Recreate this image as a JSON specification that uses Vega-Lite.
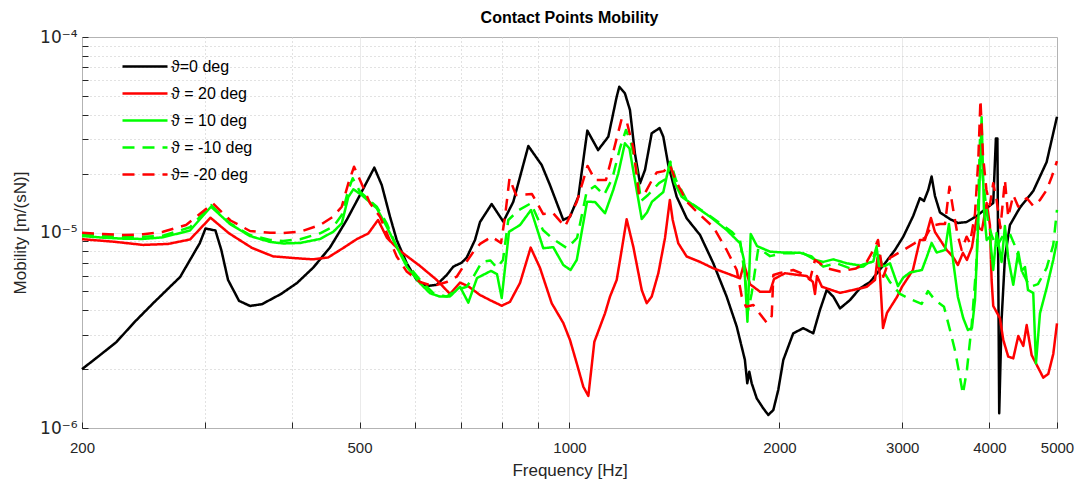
{
"$schema": "https://vega.github.io/schema/vega-lite/v6.json",
"width": 975, "height": 391,
"autosize": {"type": "none"},
"padding": {"left": 82, "top": 37, "right": 24, "bottom": 65},
"background": "white",
"config": {"view": {"stroke": "#262626", "strokeWidth": 1}, "font": "Liberation Sans"},
"title": {"text": "Contact Points Mobility", "fontSize": 16, "fontWeight": "bold", "font": "Liberation Sans", "color": "#000000", "offset": 2},
"data": {"values": [
{"s":"ϑ=0 deg","f":200,"v":2.0e-6},{"s":"ϑ=0 deg","f":211,"v":2.32e-6},{"s":"ϑ=0 deg","f":224,"v":2.75e-6},{"s":"ϑ=0 deg","f":238,"v":3.49e-6},{"s":"ϑ=0 deg","f":253,"v":4.35e-6},{"s":"ϑ=0 deg","f":267.5,"v":5.28e-6},{"s":"ϑ=0 deg","f":276.5,"v":5.92e-6},{"s":"ϑ=0 deg","f":286.6,"v":7.38e-6},{"s":"ϑ=0 deg","f":295,"v":8.81e-6},{"s":"ϑ=0 deg","f":300.7,"v":1.048e-5},{"s":"ϑ=0 deg","f":310.7,"v":1.024e-5},{"s":"ϑ=0 deg","f":316.8,"v":8.14e-6},{"s":"ϑ=0 deg","f":323.9,"v":5.72e-6},{"s":"ϑ=0 deg","f":335.9,"v":4.47e-6},{"s":"ϑ=0 deg","f":348.3,"v":4.21e-6},{"s":"ϑ=0 deg","f":362.3,"v":4.30e-6},{"s":"ϑ=0 deg","f":385.9,"v":4.85e-6},{"s":"ϑ=0 deg","f":406.8,"v":5.52e-6},{"s":"ϑ=0 deg","f":429.4,"v":6.63e-6},{"s":"ϑ=0 deg","f":453.6,"v":8.39e-6},{"s":"ϑ=0 deg","f":479.2,"v":1.159e-5},{"s":"ϑ=0 deg","f":500.7,"v":1.555e-5},{"s":"ϑ=0 deg","f":525,"v":2.146e-5},{"s":"ϑ=0 deg","f":538,"v":1.75e-5},{"s":"ϑ=0 deg","f":552.9,"v":1.205e-5},{"s":"ϑ=0 deg","f":565.3,"v":9.16e-6},{"s":"ϑ=0 deg","f":584.3,"v":6.96e-6},{"s":"ϑ=0 deg","f":603.8,"v":5.72e-6},{"s":"ϑ=0 deg","f":624.2,"v":5.32e-6},{"s":"ϑ=0 deg","f":645.1,"v":5.40e-6},{"s":"ϑ=0 deg","f":666.7,"v":6.06e-6},{"s":"ϑ=0 deg","f":681.4,"v":6.69e-6},{"s":"ϑ=0 deg","f":700.5,"v":7.01e-6},{"s":"ϑ=0 deg","f":712.2,"v":7.44e-6},{"s":"ϑ=0 deg","f":732,"v":9.16e-6},{"s":"ϑ=0 deg","f":744.2,"v":1.131e-5},{"s":"ϑ=0 deg","f":773.4,"v":1.399e-5},{"s":"ϑ=0 deg","f":803.7,"v":1.136e-5},{"s":"ϑ=0 deg","f":830.7,"v":1.437e-5},{"s":"ϑ=0 deg","f":872.9,"v":2.77e-5},{"s":"ϑ=0 deg","f":912.2,"v":2.215e-5},{"s":"ϑ=0 deg","f":937.5,"v":1.75e-5},{"s":"ϑ=0 deg","f":979.7,"v":1.159e-5},{"s":"ϑ=0 deg","f":1001.6,"v":1.205e-5},{"s":"ϑ=0 deg","f":1029.7,"v":1.525e-5},{"s":"ϑ=0 deg","f":1060.6,"v":3.32e-5},{"s":"ϑ=0 deg","f":1099,"v":2.64e-5},{"s":"ϑ=0 deg","f":1136.7,"v":3.09e-5},{"s":"ϑ=0 deg","f":1168.6,"v":4.95e-5},{"s":"ϑ=0 deg","f":1178.6,"v":5.57e-5},{"s":"ϑ=0 deg","f":1200.7,"v":5.15e-5},{"s":"ϑ=0 deg","f":1221,"v":4.23e-5},{"s":"ϑ=0 deg","f":1241,"v":2.54e-5},{"s":"ϑ=0 deg","f":1262.2,"v":1.785e-5},{"s":"ϑ=0 deg","f":1283,"v":2.088e-5},{"s":"ϑ=0 deg","f":1311.8,"v":3.22e-5},{"s":"ϑ=0 deg","f":1346.5,"v":3.42e-5},{"s":"ϑ=0 deg","f":1363,"v":3.09e-5},{"s":"ϑ=0 deg","f":1385.6,"v":2.215e-5},{"s":"ϑ=0 deg","f":1424.5,"v":1.525e-5},{"s":"ϑ=0 deg","f":1472.3,"v":1.182e-5},{"s":"ϑ=0 deg","f":1539,"v":9.70e-6},{"s":"ϑ=0 deg","f":1607.6,"v":6.96e-6},{"s":"ϑ=0 deg","f":1680,"v":4.70e-6},{"s":"ϑ=0 deg","f":1737,"v":3.30e-6},{"s":"ϑ=0 deg","f":1784.4,"v":2.23e-6},{"s":"ϑ=0 deg","f":1798.3,"v":1.693e-6},{"s":"ϑ=0 deg","f":1810.4,"v":1.94e-6},{"s":"ϑ=0 deg","f":1825,"v":1.693e-6},{"s":"ϑ=0 deg","f":1855.5,"v":1.418e-6},{"s":"ϑ=0 deg","f":1895.7,"v":1.261e-6},{"s":"ϑ=0 deg","f":1927.7,"v":1.166e-6},{"s":"ϑ=0 deg","f":1960,"v":1.236e-6},{"s":"ϑ=0 deg","f":1992,"v":1.564e-6},{"s":"ϑ=0 deg","f":2025.7,"v":2.23e-6},{"s":"ϑ=0 deg","f":2093,"v":3.05e-6},{"s":"ϑ=0 deg","f":2163.8,"v":3.24e-6},{"s":"ϑ=0 deg","f":2236,"v":3.05e-6},{"s":"ϑ=0 deg","f":2285.9,"v":4.01e-6},{"s":"ϑ=0 deg","f":2337.5,"v":5.08e-6},{"s":"ϑ=0 deg","f":2389,"v":4.70e-6},{"s":"ϑ=0 deg","f":2442.7,"v":4.09e-6},{"s":"ϑ=0 deg","f":2524,"v":4.51e-6},{"s":"ϑ=0 deg","f":2608.8,"v":5.18e-6},{"s":"ϑ=0 deg","f":2697,"v":5.58e-6},{"s":"ϑ=0 deg","f":2833.6,"v":6.96e-6},{"s":"ϑ=0 deg","f":2928.4,"v":8.14e-6},{"s":"ϑ=0 deg","f":3010,"v":9.52e-6},{"s":"ϑ=0 deg","f":3110,"v":1.214e-5},{"s":"ϑ=0 deg","f":3180,"v":1.50e-5},{"s":"ϑ=0 deg","f":3222.6,"v":1.45e-5},{"s":"ϑ=0 deg","f":3268.8,"v":1.65e-5},{"s":"ϑ=0 deg","f":3305,"v":1.934e-5},{"s":"ϑ=0 deg","f":3342,"v":1.537e-5},{"s":"ϑ=0 deg","f":3398,"v":1.266e-5},{"s":"ϑ=0 deg","f":3511.6,"v":1.172e-5},{"s":"ϑ=0 deg","f":3604.7,"v":1.118e-5},{"s":"ϑ=0 deg","f":3709.6,"v":1.131e-5},{"s":"ϑ=0 deg","f":3835.4,"v":1.214e-5},{"s":"ϑ=0 deg","f":3963.6,"v":1.334e-5},{"s":"ϑ=0 deg","f":4050.7,"v":1.415e-5},{"s":"ϑ=0 deg","f":4086.7,"v":3.03e-5},{"s":"ϑ=0 deg","f":4106.8,"v":3.03e-5},{"s":"ϑ=0 deg","f":4131.5,"v":1.189e-6},{"s":"ϑ=0 deg","f":4164,"v":3.57e-6},{"s":"ϑ=0 deg","f":4209.9,"v":7.41e-6},{"s":"ϑ=0 deg","f":4280,"v":1.092e-5},{"s":"ϑ=0 deg","f":4425,"v":1.342e-5},{"s":"ϑ=0 deg","f":4623,"v":1.63e-5},{"s":"ϑ=0 deg","f":4832,"v":2.293e-5},{"s":"ϑ=0 deg","f":5000,"v":3.91e-5},
{"s":"ϑ = 20 deg","f":200,"v":9.24e-6},{"s":"ϑ = 20 deg","f":221.6,"v":8.98e-6},{"s":"ϑ = 20 deg","f":244.7,"v":8.64e-6},{"s":"ϑ = 20 deg","f":265.7,"v":8.74e-6},{"s":"ϑ = 20 deg","f":285.7,"v":9.21e-6},{"s":"ϑ = 20 deg","f":305.7,"v":1.19e-5},{"s":"ϑ = 20 deg","f":324.9,"v":9.91e-6},{"s":"ϑ = 20 deg","f":350.6,"v":8.34e-6},{"s":"ϑ = 20 deg","f":375.8,"v":7.55e-6},{"s":"ϑ = 20 deg","f":406.8,"v":7.38e-6},{"s":"ϑ = 20 deg","f":428.9,"v":7.29e-6},{"s":"ϑ = 20 deg","f":450.7,"v":7.45e-6},{"s":"ϑ = 20 deg","f":474,"v":8.34e-6},{"s":"ϑ = 20 deg","f":495.3,"v":9.24e-6},{"s":"ϑ = 20 deg","f":514.7,"v":9.89e-6},{"s":"ϑ = 20 deg","f":531.5,"v":1.159e-5},{"s":"ϑ = 20 deg","f":547.5,"v":9.38e-6},{"s":"ϑ = 20 deg","f":571.5,"v":8.05e-6},{"s":"ϑ = 20 deg","f":610.5,"v":6.74e-6},{"s":"ϑ = 20 deg","f":645.1,"v":5.72e-6},{"s":"ϑ = 20 deg","f":674,"v":4.85e-6},{"s":"ϑ = 20 deg","f":696.6,"v":5.54e-6},{"s":"ϑ = 20 deg","f":715.3,"v":5.32e-6},{"s":"ϑ = 20 deg","f":744.2,"v":4.79e-6},{"s":"ϑ = 20 deg","f":769.1,"v":4.51e-6},{"s":"ϑ = 20 deg","f":799.5,"v":4.22e-6},{"s":"ϑ = 20 deg","f":821.6,"v":4.42e-6},{"s":"ϑ = 20 deg","f":849.3,"v":5.52e-6},{"s":"ϑ = 20 deg","f":879.7,"v":8.37e-6},{"s":"ϑ = 20 deg","f":907.2,"v":6.59e-6},{"s":"ϑ = 20 deg","f":942.8,"v":4.35e-6},{"s":"ϑ = 20 deg","f":979.7,"v":3.445e-6},{"s":"ϑ = 20 deg","f":1001.6,"v":2.82e-6},{"s":"ϑ = 20 deg","f":1024.3,"v":2.14e-6},{"s":"ϑ = 20 deg","f":1046.6,"v":1.627e-6},{"s":"ϑ = 20 deg","f":1064.2,"v":1.458e-6},{"s":"ϑ = 20 deg","f":1085.5,"v":2.76e-6},{"s":"ϑ = 20 deg","f":1124.4,"v":3.86e-6},{"s":"ϑ = 20 deg","f":1143,"v":4.70e-6},{"s":"ϑ = 20 deg","f":1168.6,"v":5.72e-6},{"s":"ϑ = 20 deg","f":1188,"v":8.14e-6},{"s":"ϑ = 20 deg","f":1207.7,"v":1.168e-5},{"s":"ϑ = 20 deg","f":1234.6,"v":8.44e-6},{"s":"ϑ = 20 deg","f":1269.3,"v":5.08e-6},{"s":"ϑ = 20 deg","f":1290.3,"v":4.35e-6},{"s":"ϑ = 20 deg","f":1311.8,"v":4.70e-6},{"s":"ϑ = 20 deg","f":1340.8,"v":6.19e-6},{"s":"ϑ = 20 deg","f":1370.7,"v":9.38e-6},{"s":"ϑ = 20 deg","f":1392.8,"v":1.466e-5},{"s":"ϑ = 20 deg","f":1406,"v":1.159e-5},{"s":"ϑ = 20 deg","f":1432,"v":8.81e-6},{"s":"ϑ = 20 deg","f":1472.3,"v":7.54e-6},{"s":"ϑ = 20 deg","f":1539,"v":7.07e-6},{"s":"ϑ = 20 deg","f":1607.6,"v":6.56e-6},{"s":"ϑ = 20 deg","f":1680,"v":6.19e-6},{"s":"ϑ = 20 deg","f":1756,"v":5.83e-6},{"s":"ϑ = 20 deg","f":1779,"v":6.90e-6},{"s":"ϑ = 20 deg","f":1814.6,"v":5.44e-6},{"s":"ϑ = 20 deg","f":1875.6,"v":4.98e-6},{"s":"ϑ = 20 deg","f":1938.7,"v":4.98e-6},{"s":"ϑ = 20 deg","f":1964.5,"v":5.78e-6},{"s":"ϑ = 20 deg","f":2037,"v":6.19e-6},{"s":"ϑ = 20 deg","f":2188,"v":5.99e-6},{"s":"ϑ = 20 deg","f":2234,"v":5.58e-6},{"s":"ϑ = 20 deg","f":2249,"v":4.85e-6},{"s":"ϑ = 20 deg","f":2264,"v":5.99e-6},{"s":"ϑ = 20 deg","f":2300.7,"v":5.28e-6},{"s":"ϑ = 20 deg","f":2442.7,"v":4.91e-6},{"s":"ϑ = 20 deg","f":2549.6,"v":5.08e-6},{"s":"ϑ = 20 deg","f":2667.5,"v":5.27e-6},{"s":"ϑ = 20 deg","f":2741.8,"v":5.72e-6},{"s":"ϑ = 20 deg","f":2764.5,"v":7.41e-6},{"s":"ϑ = 20 deg","f":2787,"v":6.06e-6},{"s":"ϑ = 20 deg","f":2815,"v":3.25e-6},{"s":"ϑ = 20 deg","f":2852.3,"v":3.88e-6},{"s":"ϑ = 20 deg","f":2948,"v":4.68e-6},{"s":"ϑ = 20 deg","f":2997,"v":5.27e-6},{"s":"ϑ = 20 deg","f":3107.3,"v":6.43e-6},{"s":"ϑ = 20 deg","f":3180,"v":9.16e-6},{"s":"ϑ = 20 deg","f":3233,"v":9.16e-6},{"s":"ϑ = 20 deg","f":3297.8,"v":1.186e-5},{"s":"ϑ = 20 deg","f":3342,"v":1.006e-5},{"s":"ϑ = 20 deg","f":3473.9,"v":8.14e-6},{"s":"ϑ = 20 deg","f":3546.5,"v":7.51e-6},{"s":"ϑ = 20 deg","f":3604.8,"v":6.82e-6},{"s":"ϑ = 20 deg","f":3665,"v":7.86e-6},{"s":"ϑ = 20 deg","f":3713.8,"v":7.24e-6},{"s":"ϑ = 20 deg","f":3776,"v":8.41e-6},{"s":"ϑ = 20 deg","f":3835.4,"v":1.186e-5},{"s":"ϑ = 20 deg","f":3864.5,"v":1.054e-5},{"s":"ϑ = 20 deg","f":3902.6,"v":1.03e-5},{"s":"ϑ = 20 deg","f":3963.6,"v":1.415e-5},{"s":"ϑ = 20 deg","f":4006.7,"v":1.092e-5},{"s":"ϑ = 20 deg","f":4029,"v":5.72e-6},{"s":"ϑ = 20 deg","f":4050.7,"v":4.21e-6},{"s":"ϑ = 20 deg","f":4141,"v":3.65e-6},{"s":"ϑ = 20 deg","f":4187.7,"v":2.82e-6},{"s":"ϑ = 20 deg","f":4256,"v":2.32e-6},{"s":"ϑ = 20 deg","f":4327.5,"v":2.27e-6},{"s":"ϑ = 20 deg","f":4400,"v":2.955e-6},{"s":"ϑ = 20 deg","f":4473.5,"v":2.63e-6},{"s":"ϑ = 20 deg","f":4523.9,"v":3.36e-6},{"s":"ϑ = 20 deg","f":4598.5,"v":2.36e-6},{"s":"ϑ = 20 deg","f":4700,"v":2.03e-6},{"s":"ϑ = 20 deg","f":4778,"v":1.81e-6},{"s":"ϑ = 20 deg","f":4858,"v":1.89e-6},{"s":"ϑ = 20 deg","f":4938.7,"v":2.39e-6},{"s":"ϑ = 20 deg","f":5000,"v":3.43e-6},
{"s":"ϑ = 10 deg","f":200,"v":9.59e-6},{"s":"ϑ = 10 deg","f":214.4,"v":9.41e-6},{"s":"ϑ = 10 deg","f":229,"v":9.30e-6},{"s":"ϑ = 10 deg","f":244.7,"v":9.27e-6},{"s":"ϑ = 10 deg","f":261.3,"v":9.45e-6},{"s":"ϑ = 10 deg","f":285.7,"v":1.024e-5},{"s":"ϑ = 10 deg","f":306.2,"v":1.355e-5},{"s":"ϑ = 10 deg","f":326,"v":1.105e-5},{"s":"ϑ = 10 deg","f":348.3,"v":9.59e-6},{"s":"ϑ = 10 deg","f":372.1,"v":8.95e-6},{"s":"ϑ = 10 deg","f":388.5,"v":8.79e-6},{"s":"ϑ = 10 deg","f":410.9,"v":8.84e-6},{"s":"ϑ = 10 deg","f":438.9,"v":9.27e-6},{"s":"ϑ = 10 deg","f":458.5,"v":1.009e-5},{"s":"ϑ = 10 deg","f":471.5,"v":1.114e-5},{"s":"ϑ = 10 deg","f":481.8,"v":1.519e-5},{"s":"ϑ = 10 deg","f":489.9,"v":1.664e-5},{"s":"ϑ = 10 deg","f":503.6,"v":1.555e-5},{"s":"ϑ = 10 deg","f":529.2,"v":1.33e-5},{"s":"ϑ = 10 deg","f":546.9,"v":1.071e-5},{"s":"ϑ = 10 deg","f":565.3,"v":8.44e-6},{"s":"ϑ = 10 deg","f":584.3,"v":6.69e-6},{"s":"ϑ = 10 deg","f":610.5,"v":5.50e-6},{"s":"ϑ = 10 deg","f":631,"v":4.89e-6},{"s":"ϑ = 10 deg","f":652.1,"v":4.70e-6},{"s":"ϑ = 10 deg","f":674,"v":4.71e-6},{"s":"ϑ = 10 deg","f":696.6,"v":5.28e-6},{"s":"ϑ = 10 deg","f":716,"v":4.38e-6},{"s":"ϑ = 10 deg","f":736.9,"v":5.85e-6},{"s":"ϑ = 10 deg","f":771.6,"v":6.36e-6},{"s":"ϑ = 10 deg","f":787.1,"v":6.13e-6},{"s":"ϑ = 10 deg","f":799.5,"v":4.62e-6},{"s":"ϑ = 10 deg","f":818.9,"v":1.009e-5},{"s":"ϑ = 10 deg","f":849.3,"v":1.092e-5},{"s":"ϑ = 10 deg","f":880.6,"v":1.304e-5},{"s":"ϑ = 10 deg","f":917,"v":8.31e-6},{"s":"ϑ = 10 deg","f":947.8,"v":8.41e-6},{"s":"ϑ = 10 deg","f":979.7,"v":6.82e-6},{"s":"ϑ = 10 deg","f":1003.4,"v":6.43e-6},{"s":"ϑ = 10 deg","f":1024.3,"v":7.24e-6},{"s":"ϑ = 10 deg","f":1059.6,"v":1.437e-5},{"s":"ϑ = 10 deg","f":1088,"v":1.432e-5},{"s":"ϑ = 10 deg","f":1124.4,"v":1.254e-5},{"s":"ϑ = 10 deg","f":1155.4,"v":1.65e-5},{"s":"ϑ = 10 deg","f":1174.8,"v":2.008e-5},{"s":"ϑ = 10 deg","f":1200.7,"v":2.86e-5},{"s":"ϑ = 10 deg","f":1219,"v":2.69e-5},{"s":"ϑ = 10 deg","f":1237.4,"v":1.97e-5},{"s":"ϑ = 10 deg","f":1269.3,"v":1.172e-5},{"s":"ϑ = 10 deg","f":1291.6,"v":1.266e-5},{"s":"ϑ = 10 deg","f":1313,"v":1.437e-5},{"s":"ϑ = 10 deg","f":1363,"v":1.61e-5},{"s":"ϑ = 10 deg","f":1393.2,"v":2.293e-5},{"s":"ϑ = 10 deg","f":1415.8,"v":1.785e-5},{"s":"ϑ = 10 deg","f":1448,"v":1.525e-5},{"s":"ϑ = 10 deg","f":1504.6,"v":1.382e-5},{"s":"ϑ = 10 deg","f":1590,"v":1.205e-5},{"s":"ϑ = 10 deg","f":1680,"v":1.03e-5},{"s":"ϑ = 10 deg","f":1756,"v":8.81e-6},{"s":"ϑ = 10 deg","f":1779,"v":7.24e-6},{"s":"ϑ = 10 deg","f":1799.4,"v":3.50e-6},{"s":"ϑ = 10 deg","f":1818.9,"v":9.83e-6},{"s":"ϑ = 10 deg","f":1857.3,"v":8.52e-6},{"s":"ϑ = 10 deg","f":1938.7,"v":7.98e-6},{"s":"ϑ = 10 deg","f":2023.6,"v":7.90e-6},{"s":"ϑ = 10 deg","f":2140.4,"v":7.88e-6},{"s":"ϑ = 10 deg","f":2224.4,"v":7.54e-6},{"s":"ϑ = 10 deg","f":2248.9,"v":7.24e-6},{"s":"ϑ = 10 deg","f":2311,"v":7.07e-6},{"s":"ϑ = 10 deg","f":2389,"v":7.29e-6},{"s":"ϑ = 10 deg","f":2496.8,"v":6.96e-6},{"s":"ϑ = 10 deg","f":2608.8,"v":6.78e-6},{"s":"ϑ = 10 deg","f":2726.4,"v":7.11e-6},{"s":"ϑ = 10 deg","f":2757.3,"v":8.34e-6},{"s":"ϑ = 10 deg","f":2778.2,"v":6.74e-6},{"s":"ϑ = 10 deg","f":2833.6,"v":6.74e-6},{"s":"ϑ = 10 deg","f":2880.4,"v":6.96e-6},{"s":"ϑ = 10 deg","f":2957.8,"v":5.32e-6},{"s":"ϑ = 10 deg","f":3010,"v":5.88e-6},{"s":"ϑ = 10 deg","f":3077,"v":6.24e-6},{"s":"ϑ = 10 deg","f":3201,"v":6.43e-6},{"s":"ϑ = 10 deg","f":3254.8,"v":7.54e-6},{"s":"ϑ = 10 deg","f":3305.6,"v":8.84e-6},{"s":"ϑ = 10 deg","f":3361,"v":7.90e-6},{"s":"ϑ = 10 deg","f":3454.5,"v":8.14e-6},{"s":"ϑ = 10 deg","f":3500,"v":1.105e-5},{"s":"ϑ = 10 deg","f":3550,"v":7.07e-6},{"s":"ϑ = 10 deg","f":3604.8,"v":4.68e-6},{"s":"ϑ = 10 deg","f":3668.7,"v":3.65e-6},{"s":"ϑ = 10 deg","f":3726,"v":3.17e-6},{"s":"ϑ = 10 deg","f":3776,"v":3.25e-6},{"s":"ϑ = 10 deg","f":3814,"v":4.51e-6},{"s":"ϑ = 10 deg","f":3855.7,"v":1.118e-5},{"s":"ϑ = 10 deg","f":3898.7,"v":3.89e-5},{"s":"ϑ = 10 deg","f":3928.6,"v":1.304e-5},{"s":"ϑ = 10 deg","f":3963.6,"v":9.16e-6},{"s":"ϑ = 10 deg","f":4006.7,"v":9.52e-6},{"s":"ϑ = 10 deg","f":4050.7,"v":6.43e-6},{"s":"ϑ = 10 deg","f":4096,"v":9.94e-6},{"s":"ϑ = 10 deg","f":4164.4,"v":7.07e-6},{"s":"ϑ = 10 deg","f":4209.9,"v":1.08e-5},{"s":"ϑ = 10 deg","f":4256.3,"v":7.41e-6},{"s":"ϑ = 10 deg","f":4327.5,"v":5.40e-6},{"s":"ϑ = 10 deg","f":4400,"v":7.94e-6},{"s":"ϑ = 10 deg","f":4450,"v":6.36e-6},{"s":"ϑ = 10 deg","f":4498.5,"v":6.66e-6},{"s":"ϑ = 10 deg","f":4543.3,"v":5.08e-6},{"s":"ϑ = 10 deg","f":4623,"v":4.91e-6},{"s":"ϑ = 10 deg","f":4664.6,"v":2.14e-6},{"s":"ϑ = 10 deg","f":4726.6,"v":3.86e-6},{"s":"ϑ = 10 deg","f":4832,"v":5.20e-6},{"s":"ϑ = 10 deg","f":4938.7,"v":7.24e-6},{"s":"ϑ = 10 deg","f":5000,"v":9.05e-6},
{"s":"ϑ =  -10 deg","f":200,"v":9.79e-6},{"s":"ϑ =  -10 deg","f":214.4,"v":9.59e-6},{"s":"ϑ =  -10 deg","f":229,"v":9.52e-6},{"s":"ϑ =  -10 deg","f":244.7,"v":9.52e-6},{"s":"ϑ =  -10 deg","f":261.3,"v":9.63e-6},{"s":"ϑ =  -10 deg","f":285.7,"v":1.063e-5},{"s":"ϑ =  -10 deg","f":306.2,"v":1.382e-5},{"s":"ϑ =  -10 deg","f":326,"v":1.114e-5},{"s":"ϑ =  -10 deg","f":348.3,"v":9.70e-6},{"s":"ϑ =  -10 deg","f":372.1,"v":9.16e-6},{"s":"ϑ =  -10 deg","f":388.5,"v":9.05e-6},{"s":"ϑ =  -10 deg","f":410.9,"v":9.24e-6},{"s":"ϑ =  -10 deg","f":438.9,"v":9.91e-6},{"s":"ϑ =  -10 deg","f":458.5,"v":1.071e-5},{"s":"ϑ =  -10 deg","f":471.5,"v":1.229e-5},{"s":"ϑ =  -10 deg","f":481.8,"v":1.65e-5},{"s":"ϑ =  -10 deg","f":488.9,"v":1.894e-5},{"s":"ϑ =  -10 deg","f":500.7,"v":1.617e-5},{"s":"ϑ =  -10 deg","f":529.2,"v":1.355e-5},{"s":"ϑ =  -10 deg","f":546.9,"v":1.114e-5},{"s":"ϑ =  -10 deg","f":562.1,"v":8.81e-6},{"s":"ϑ =  -10 deg","f":581,"v":7.10e-6},{"s":"ϑ =  -10 deg","f":610.5,"v":5.72e-6},{"s":"ϑ =  -10 deg","f":637.9,"v":4.89e-6},{"s":"ϑ =  -10 deg","f":666.7,"v":4.70e-6},{"s":"ϑ =  -10 deg","f":689.1,"v":5.08e-6},{"s":"ϑ =  -10 deg","f":712.2,"v":5.28e-6},{"s":"ϑ =  -10 deg","f":728,"v":5.94e-6},{"s":"ϑ =  -10 deg","f":749.1,"v":7.07e-6},{"s":"ϑ =  -10 deg","f":770.4,"v":7.19e-6},{"s":"ϑ =  -10 deg","f":787.1,"v":6.59e-6},{"s":"ϑ =  -10 deg","f":802.9,"v":7.24e-6},{"s":"ϑ =  -10 deg","f":817,"v":1.159e-5},{"s":"ϑ =  -10 deg","f":846.5,"v":1.304e-5},{"s":"ϑ =  -10 deg","f":880.6,"v":1.411e-5},{"s":"ϑ =  -10 deg","f":916,"v":1.03e-5},{"s":"ϑ =  -10 deg","f":946.9,"v":9.27e-6},{"s":"ϑ =  -10 deg","f":991.8,"v":8.31e-6},{"s":"ϑ =  -10 deg","f":1025.3,"v":9.38e-6},{"s":"ϑ =  -10 deg","f":1058.5,"v":1.621e-5},{"s":"ϑ =  -10 deg","f":1088,"v":1.729e-5},{"s":"ϑ =  -10 deg","f":1120.7,"v":1.555e-5},{"s":"ϑ =  -10 deg","f":1152.3,"v":1.90e-5},{"s":"ϑ =  -10 deg","f":1181.4,"v":2.705e-5},{"s":"ϑ =  -10 deg","f":1204.9,"v":3.345e-5},{"s":"ϑ =  -10 deg","f":1225,"v":2.87e-5},{"s":"ϑ =  -10 deg","f":1248.4,"v":2.088e-5},{"s":"ϑ =  -10 deg","f":1266.4,"v":1.45e-5},{"s":"ϑ =  -10 deg","f":1295.8,"v":1.555e-5},{"s":"ϑ =  -10 deg","f":1343.9,"v":1.79e-5},{"s":"ϑ =  -10 deg","f":1379.7,"v":1.894e-5},{"s":"ϑ =  -10 deg","f":1395.5,"v":2.30e-5},{"s":"ϑ =  -10 deg","f":1421.2,"v":1.856e-5},{"s":"ϑ =  -10 deg","f":1472.3,"v":1.466e-5},{"s":"ϑ =  -10 deg","f":1590,"v":1.214e-5},{"s":"ϑ =  -10 deg","f":1708,"v":1.009e-5},{"s":"ϑ =  -10 deg","f":1756,"v":9.16e-6},{"s":"ϑ =  -10 deg","f":1785,"v":5.94e-6},{"s":"ϑ =  -10 deg","f":1804.3,"v":4.01e-6},{"s":"ϑ =  -10 deg","f":1825,"v":4.89e-6},{"s":"ϑ =  -10 deg","f":1865,"v":8.31e-6},{"s":"ϑ =  -10 deg","f":1938.7,"v":7.57e-6},{"s":"ϑ =  -10 deg","f":2025.7,"v":7.83e-6},{"s":"ϑ =  -10 deg","f":2163.8,"v":7.83e-6},{"s":"ϑ =  -10 deg","f":2248.9,"v":7.24e-6},{"s":"ϑ =  -10 deg","f":2311,"v":6.69e-6},{"s":"ϑ =  -10 deg","f":2416,"v":6.96e-6},{"s":"ϑ =  -10 deg","f":2524.4,"v":6.56e-6},{"s":"ϑ =  -10 deg","f":2637.7,"v":6.69e-6},{"s":"ϑ =  -10 deg","f":2726.4,"v":7.41e-6},{"s":"ϑ =  -10 deg","f":2757.3,"v":8.52e-6},{"s":"ϑ =  -10 deg","f":2824.3,"v":6.28e-6},{"s":"ϑ =  -10 deg","f":2880.4,"v":5.58e-6},{"s":"ϑ =  -10 deg","f":2977.5,"v":4.85e-6},{"s":"ϑ =  -10 deg","f":3077,"v":4.57e-6},{"s":"ϑ =  -10 deg","f":3197.9,"v":4.31e-6},{"s":"ϑ =  -10 deg","f":3265.6,"v":5.02e-6},{"s":"ϑ =  -10 deg","f":3342,"v":4.51e-6},{"s":"ϑ =  -10 deg","f":3443,"v":4.17e-6},{"s":"ϑ =  -10 deg","f":3511.6,"v":3.17e-6},{"s":"ϑ =  -10 deg","f":3569.8,"v":2.50e-6},{"s":"ϑ =  -10 deg","f":3628.9,"v":1.823e-6},{"s":"ϑ =  -10 deg","f":3665,"v":1.492e-6},{"s":"ϑ =  -10 deg","f":3713.8,"v":1.98e-6},{"s":"ϑ =  -10 deg","f":3772.5,"v":3.36e-6},{"s":"ϑ =  -10 deg","f":3835.4,"v":7.24e-6},{"s":"ϑ =  -10 deg","f":3877.2,"v":2.97e-5},{"s":"ϑ =  -10 deg","f":3915.6,"v":1.856e-5},{"s":"ϑ =  -10 deg","f":3984.4,"v":1.114e-5},{"s":"ϑ =  -10 deg","f":4033.3,"v":9.59e-6},{"s":"ϑ =  -10 deg","f":4096,"v":8.44e-6},{"s":"ϑ =  -10 deg","f":4186.3,"v":9.70e-6},{"s":"ϑ =  -10 deg","f":4280.3,"v":9.83e-6},{"s":"ϑ =  -10 deg","f":4376.8,"v":8.14e-6},{"s":"ϑ =  -10 deg","f":4450,"v":6.36e-6},{"s":"ϑ =  -10 deg","f":4573,"v":5.27e-6},{"s":"ϑ =  -10 deg","f":4695.4,"v":5.44e-6},{"s":"ϑ =  -10 deg","f":4832,"v":6.59e-6},{"s":"ϑ =  -10 deg","f":4938.7,"v":8.64e-6},{"s":"ϑ =  -10 deg","f":5000,"v":1.304e-5},
{"s":"ϑ= -20 deg","f":200,"v":9.98e-6},{"s":"ϑ= -20 deg","f":214.4,"v":9.83e-6},{"s":"ϑ= -20 deg","f":229,"v":9.70e-6},{"s":"ϑ= -20 deg","f":244.7,"v":9.79e-6},{"s":"ϑ= -20 deg","f":261.3,"v":1.009e-5},{"s":"ϑ= -20 deg","f":282,"v":1.092e-5},{"s":"ϑ= -20 deg","f":308.2,"v":1.407e-5},{"s":"ϑ= -20 deg","f":326.6,"v":1.152e-5},{"s":"ϑ= -20 deg","f":348.3,"v":1.018e-5},{"s":"ϑ= -20 deg","f":372.1,"v":9.98e-6},{"s":"ϑ= -20 deg","f":388.5,"v":9.94e-6},{"s":"ϑ= -20 deg","f":410.9,"v":1.009e-5},{"s":"ϑ= -20 deg","f":438.9,"v":1.092e-5},{"s":"ϑ= -20 deg","f":458.5,"v":1.207e-5},{"s":"ϑ= -20 deg","f":471.5,"v":1.355e-5},{"s":"ϑ= -20 deg","f":481.8,"v":1.785e-5},{"s":"ϑ= -20 deg","f":491,"v":2.17e-5},{"s":"ϑ= -20 deg","f":500.7,"v":1.856e-5},{"s":"ϑ= -20 deg","f":517.6,"v":1.411e-5},{"s":"ϑ= -20 deg","f":535,"v":1.205e-5},{"s":"ϑ= -20 deg","f":549.8,"v":9.52e-6},{"s":"ϑ= -20 deg","f":565.3,"v":7.54e-6},{"s":"ϑ= -20 deg","f":584.3,"v":6.31e-6},{"s":"ϑ= -20 deg","f":610.5,"v":5.58e-6},{"s":"ϑ= -20 deg","f":637.9,"v":5.32e-6},{"s":"ϑ= -20 deg","f":666.7,"v":5.58e-6},{"s":"ϑ= -20 deg","f":689.1,"v":5.94e-6},{"s":"ϑ= -20 deg","f":708.2,"v":6.90e-6},{"s":"ϑ= -20 deg","f":728,"v":7.96e-6},{"s":"ϑ= -20 deg","f":744.2,"v":8.74e-6},{"s":"ϑ= -20 deg","f":773.4,"v":9.52e-6},{"s":"ϑ= -20 deg","f":797.6,"v":8.84e-6},{"s":"ϑ= -20 deg","f":808.3,"v":1.205e-5},{"s":"ϑ= -20 deg","f":820.3,"v":1.894e-5},{"s":"ϑ= -20 deg","f":838.1,"v":1.555e-5},{"s":"ϑ= -20 deg","f":883.5,"v":1.573e-5},{"s":"ϑ= -20 deg","f":917,"v":1.243e-5},{"s":"ϑ= -20 deg","f":947.8,"v":1.254e-5},{"s":"ϑ= -20 deg","f":985.2,"v":1.071e-5},{"s":"ϑ= -20 deg","f":1024.3,"v":1.432e-5},{"s":"ϑ= -20 deg","f":1061.3,"v":2.19e-5},{"s":"ϑ= -20 deg","f":1088,"v":1.856e-5},{"s":"ϑ= -20 deg","f":1128,"v":1.856e-5},{"s":"ϑ= -20 deg","f":1162,"v":2.80e-5},{"s":"ϑ= -20 deg","f":1188,"v":3.82e-5},{"s":"ϑ= -20 deg","f":1208.9,"v":3.65e-5},{"s":"ϑ= -20 deg","f":1234.6,"v":2.705e-5},{"s":"ϑ= -20 deg","f":1258,"v":1.555e-5},{"s":"ϑ= -20 deg","f":1283.2,"v":1.592e-5},{"s":"ϑ= -20 deg","f":1313.2,"v":1.856e-5},{"s":"ϑ= -20 deg","f":1333.8,"v":2.027e-5},{"s":"ϑ= -20 deg","f":1366.2,"v":2.06e-5},{"s":"ϑ= -20 deg","f":1393.2,"v":2.215e-5},{"s":"ϑ= -20 deg","f":1418.9,"v":1.856e-5},{"s":"ϑ= -20 deg","f":1472.3,"v":1.437e-5},{"s":"ϑ= -20 deg","f":1539,"v":1.229e-5},{"s":"ϑ= -20 deg","f":1607.6,"v":1.067e-5},{"s":"ϑ= -20 deg","f":1680,"v":8.14e-6},{"s":"ϑ= -20 deg","f":1737,"v":6.43e-6},{"s":"ϑ= -20 deg","f":1765.9,"v":4.70e-6},{"s":"ϑ= -20 deg","f":1790.8,"v":4.17e-6},{"s":"ϑ= -20 deg","f":1834.8,"v":4.26e-6},{"s":"ϑ= -20 deg","f":1875.6,"v":3.83e-6},{"s":"ϑ= -20 deg","f":1919.4,"v":3.445e-6},{"s":"ϑ= -20 deg","f":1949.7,"v":3.74e-6},{"s":"ϑ= -20 deg","f":1960,"v":6.06e-6},{"s":"ϑ= -20 deg","f":2003.4,"v":6.21e-6},{"s":"ϑ= -20 deg","f":2093,"v":6.43e-6},{"s":"ϑ= -20 deg","f":2163.8,"v":6.13e-6},{"s":"ϑ= -20 deg","f":2211.9,"v":5.72e-6},{"s":"ϑ= -20 deg","f":2248.9,"v":7.24e-6},{"s":"ϑ= -20 deg","f":2285.9,"v":6.96e-6},{"s":"ϑ= -20 deg","f":2337.5,"v":6.56e-6},{"s":"ϑ= -20 deg","f":2442.7,"v":6.32e-6},{"s":"ϑ= -20 deg","f":2574.8,"v":6.55e-6},{"s":"ϑ= -20 deg","f":2667.5,"v":7.07e-6},{"s":"ϑ= -20 deg","f":2741.8,"v":8.41e-6},{"s":"ϑ= -20 deg","f":2769,"v":9.16e-6},{"s":"ϑ= -20 deg","f":2817.8,"v":5.94e-6},{"s":"ϑ= -20 deg","f":2880.4,"v":7.41e-6},{"s":"ϑ= -20 deg","f":2977.5,"v":7.94e-6},{"s":"ϑ= -20 deg","f":3077,"v":8.52e-6},{"s":"ϑ= -20 deg","f":3180,"v":9.16e-6},{"s":"ϑ= -20 deg","f":3233,"v":9.38e-6},{"s":"ϑ= -20 deg","f":3305.6,"v":1.08e-5},{"s":"ϑ= -20 deg","f":3398,"v":1.105e-5},{"s":"ϑ= -20 deg","f":3454.5,"v":1.105e-5},{"s":"ϑ= -20 deg","f":3505.8,"v":1.715e-5},{"s":"ϑ= -20 deg","f":3550,"v":1.304e-5},{"s":"ϑ= -20 deg","f":3598.8,"v":9.83e-6},{"s":"ϑ= -20 deg","f":3649.4,"v":8.14e-6},{"s":"ϑ= -20 deg","f":3710,"v":9.52e-6},{"s":"ϑ= -20 deg","f":3751.3,"v":8.84e-6},{"s":"ϑ= -20 deg","f":3814,"v":1.243e-5},{"s":"ϑ= -20 deg","f":3855.7,"v":2.35e-5},{"s":"ϑ= -20 deg","f":3883.5,"v":4.76e-5},{"s":"ϑ= -20 deg","f":3915.6,"v":2.49e-5},{"s":"ϑ= -20 deg","f":3961,"v":1.65e-5},{"s":"ϑ= -20 deg","f":4006.7,"v":1.382e-5},{"s":"ϑ= -20 deg","f":4050.7,"v":1.785e-5},{"s":"ϑ= -20 deg","f":4096,"v":1.466e-5},{"s":"ϑ= -20 deg","f":4148,"v":1.054e-5},{"s":"ϑ= -20 deg","f":4209.9,"v":1.856e-5},{"s":"ϑ= -20 deg","f":4256.3,"v":1.2e-5},{"s":"ϑ= -20 deg","f":4327.5,"v":1.555e-5},{"s":"ϑ= -20 deg","f":4400,"v":1.355e-5},{"s":"ϑ= -20 deg","f":4523.9,"v":1.50e-5},{"s":"ϑ= -20 deg","f":4623,"v":1.366e-5},{"s":"ϑ= -20 deg","f":4726.6,"v":1.466e-5},{"s":"ϑ= -20 deg","f":4832,"v":1.65e-5},{"s":"ϑ= -20 deg","f":4912.9,"v":1.923e-5},{"s":"ϑ= -20 deg","f":5000,"v":2.32e-5}
]},
"encoding": {
  "x": {"field": "f", "type": "quantitative",
    "scale": {"type": "log", "domain": [200, 5000], "nice": false},
    "axis": {"values": [200,300,400,500,600,700,800,900,1000,2000,3000,4000,5000],
      "labelExpr": "indexof([200,500,1000,2000,3000,4000,5000], datum.value) >= 0 ? format(datum.value, 'd') : ''",
      "title": "Frequency [Hz]", "titleFontSize": 17, "titleFontWeight": "normal", "titleColor": "#262626", "titleFont": "Liberation Sans",
      "titleY": 42, "titleBaseline": "middle",
      "labelFontSize": 15, "labelColor": "#262626", "labelFont": "Liberation Sans", "labelPadding": 18, "labelOverlap": false, "labelFlush": false, "labelBound": false,
      "domain": false, "ticks": true, "tickSize": -6, "tickColor": "#262626", "tickWidth": 1,
      "grid": true,
      "gridColor": {"condition": {"test": "indexof([200,500,1000,2000,3000,4000,5000], datum.value) >= 0", "value": "#e2e2e2"}, "value": "#c4c4c4"},
      "gridDash": {"condition": {"test": "indexof([200,500,1000,2000,3000,4000,5000], datum.value) >= 0", "value": [1, 0]}, "value": [1, 3]},
      "gridWidth": 1}},
  "y": {"field": "v", "type": "quantitative",
    "scale": {"type": "log", "domain": [1e-6, 1e-4], "nice": false},
    "axis": {"values": [1e-6,2e-6,3e-6,4e-6,5e-6,6e-6,7e-6,8e-6,9e-6,1e-5,2e-5,3e-5,4e-5,5e-5,6e-5,7e-5,8e-5,9e-5,1e-4],
      "labelExpr": "datum.value == 1e-4 ? '10⁻⁴' : datum.value == 1e-5 ? '10⁻⁵' : datum.value == 1e-6 ? '10⁻⁶' : ''",
      "title": "Mobility [m/(sN)]", "titleFontSize": 17, "titleFontWeight": "normal", "titleColor": "#262626", "titleFont": "Liberation Sans",
      "titleX": -62, "titleBaseline": "middle",
      "labelFontSize": 17, "labelColor": "#262626", "labelFont": "DejaVu Sans", "labelPadding": 11, "labelOverlap": false, "labelFlush": false, "labelBound": false,
      "domain": false, "ticks": true, "tickSize": -6, "tickColor": "#262626", "tickWidth": 1,
      "grid": true,
      "gridColor": {"condition": {"test": "datum.value == 1e-6 || datum.value == 1e-5 || datum.value == 1e-4", "value": "#e2e2e2"}, "value": "#c4c4c4"},
      "gridDash": {"condition": {"test": "datum.value == 1e-6 || datum.value == 1e-5 || datum.value == 1e-4", "value": [1, 0]}, "value": [1, 3]},
      "gridWidth": 1}},
  "color": {"field": "s", "type": "nominal",
    "scale": {"domain": ["ϑ=0 deg", "ϑ = 20 deg", "ϑ = 10 deg", "ϑ =  -10 deg", "ϑ= -20 deg"], "range": ["#000000", "#ff0000", "#00ff00", "#00ff00", "#ff0000"]},
    "legend": {"orient": "none", "legendX": 64, "legendY": 18, "title": null, "symbolType": "M-3.5,0H1", "symbolSize": 400, "symbolStrokeWidth": 2.5, "labelFontSize": 16, "labelFont": "Liberation Sans", "labelColor": "#000000", "labelOffset": 2, "rowPadding": 7, "padding": 0, "labelLimit": 300}},
  "strokeDash": {"field": "s", "type": "nominal",
    "scale": {"domain": ["ϑ=0 deg", "ϑ = 20 deg", "ϑ = 10 deg", "ϑ =  -10 deg", "ϑ= -20 deg"], "range": [[1, 0], [1, 0], [1, 0], [12, 8], [12, 8]]},
    "legend": {"orient": "none", "legendX": 64, "legendY": 18, "title": null, "symbolType": "M-3.5,0H1", "symbolSize": 400, "symbolStrokeWidth": 2.5, "labelFontSize": 16, "labelFont": "Liberation Sans", "labelColor": "#000000", "labelOffset": 2, "rowPadding": 7, "padding": 0, "labelLimit": 300}}
},
"layer": [
  {"transform": [{"filter": {"field": "s", "equal": "ϑ=0 deg"}}], "mark": {"type": "line", "strokeWidth": 2.5, "strokeJoin": "round"}},
  {"transform": [{"filter": {"field": "s", "equal": "ϑ = 20 deg"}}], "mark": {"type": "line", "strokeWidth": 2.5, "strokeJoin": "round"}},
  {"transform": [{"filter": {"field": "s", "equal": "ϑ = 10 deg"}}], "mark": {"type": "line", "strokeWidth": 2.5, "strokeJoin": "round"}},
  {"transform": [{"filter": {"field": "s", "equal": "ϑ =  -10 deg"}}], "mark": {"type": "line", "strokeWidth": 2.5, "strokeJoin": "round"}},
  {"transform": [{"filter": {"field": "s", "equal": "ϑ= -20 deg"}}], "mark": {"type": "line", "strokeWidth": 2.5, "strokeJoin": "round"}}
]
}
